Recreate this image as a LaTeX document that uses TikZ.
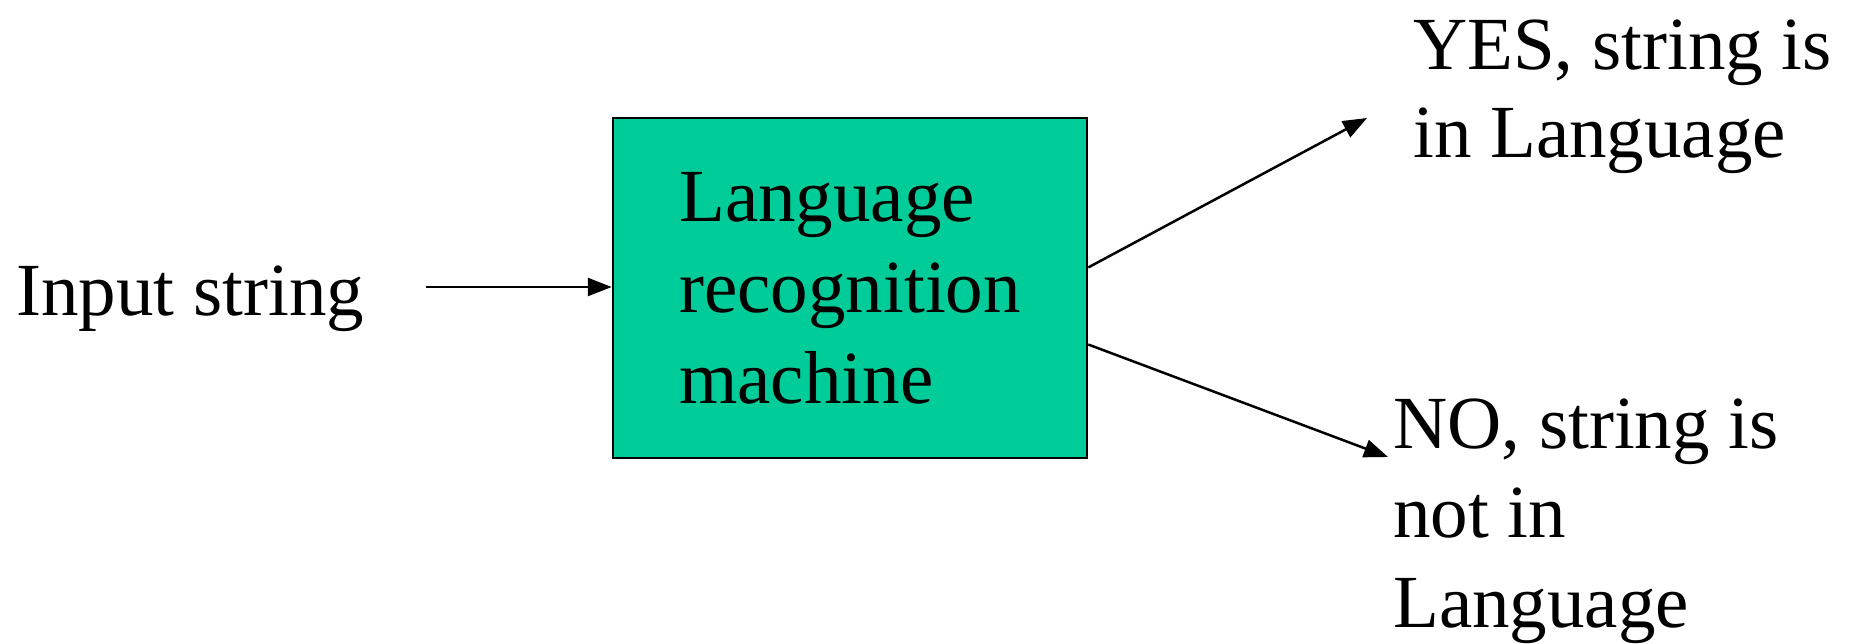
\documentclass[tikz,border=0pt]{standalone}
\usepackage{fontspec}
\setmainfont{Liberation Serif}
\usetikzlibrary{arrows.meta,calc}

\definecolor{machinegreen}{RGB}{0,204,153}

\begin{document}
\begin{tikzpicture}[x=1pt, y=-1pt,
  % multi-line labels are placed by the baseline of their last line
  label text/.style={inner sep=0pt, anchor=base west, align=left,
    font=\fontsize{75}{88}\selectfont},
  machine/.style={draw=black, line width=2.5pt, fill=machinegreen,
    minimum width=474pt, minimum height=340pt, inner sep=0pt,
    align=left, font=\fontsize{75}{91}\selectfont},
  flow/.style={line width=2.5pt, -{Triangle[length=24pt, width=18pt]}}]

  % page frame
  \useasboundingbox (0,0) rectangle (1854,644);

  % the recogniser
  \node[machine] (lrm) at (850,288) {Language\\recognition\\machine};

  % input side
  \node[label text] (input) at (16,315) {Input string};
  \coordinate (inStart) at (426,287);
  \draw[flow] (inStart) -- (inStart -| lrm.west);

  % outcomes
  \node[label text] (yes) at (1413,158) {YES, string is\\in Language};
  \node[label text, font=\fontsize{75}{89.5}\selectfont] (no) at (1393,627)
    {NO, string is\\not in\\Language};

  \coordinate (yesTip) at (1367,118);
  \coordinate (noTip) at (1388,457);
  \draw[flow] ($(lrm.north east)!0.44!(lrm.south east)$) -- (yesTip);
  \draw[flow] ($(lrm.north east)!0.665!(lrm.south east)$) -- (noTip);
\end{tikzpicture}
\end{document}
